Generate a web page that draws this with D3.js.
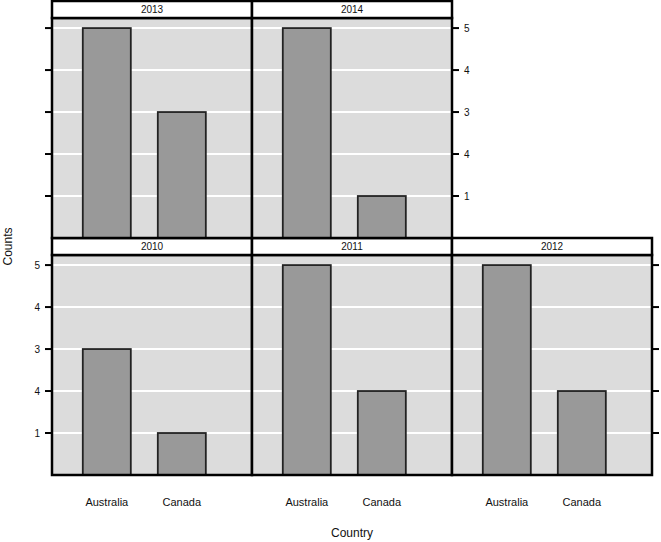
<!DOCTYPE html>
<html>
<head>
<meta charset="utf-8">
<script src="https://cdn.jsdelivr.net/npm/d3@7"></script>
<style>
  body { margin: 0; background: #fff; }
  text { font-family: "Liberation Sans", "DejaVu Sans", sans-serif; fill: #111; }
</style>
</head>
<body>
<script>
// panels in lattice order: filled from bottom-left, 3 columns
let years = ["2010", "2011", "2012", "2013", "2014"];
let countries = ["Australia", "Canada"];
let australia = [3, 5, 5, 5, 5];
let canada = [1, 2, 2, 3, 1];
let tickValues = [1, 2, 3, 4, 5];
let tickLabels = ["1", "4", "3", "4", "5"];

let width = 661;
let height = 542;

let svg = d3.select("body")
            .append("svg")
            .attr("width", width)
            .attr("height", height);

let left = 52;
let panelW = 200;
let stripH = 17;
let panelH = 220;
let rowTop = [238, 1];   // row 0 = bottom, row 1 = top
let nCols = 3;

let x = d3.scaleBand()
    .domain(countries)
    .range([0, panelW])
    .paddingInner(0.36)
    .paddingOuter(0.513)
    .align(0.4);

let y = d3.scaleLinear()
    .domain([0, 5.24])
    .range([panelH, 0]);

years.forEach((yr, i) => {
    let col = i % nCols;
    let row = Math.floor(i / nCols);
    let px = left + col * panelW;
    let py = rowTop[row] + stripH;
    let g = svg.append("g").attr("transform", `translate(${px},${py})`);

    g.append("rect")
        .attr("width", panelW)
        .attr("height", panelH)
        .style("fill", "#dcdcdc");

    g.selectAll(".grid")
        .data(tickValues)
        .join("line")
        .attr("x1", 0)
        .attr("x2", panelW)
        .attr("y1", d => y(d))
        .attr("y2", d => y(d))
        .style("stroke", "#fff")
        .style("stroke-width", 2);

    let vals = [australia[i], canada[i]];
    g.selectAll(".bar")
        .data(countries)
        .join("rect")
        .attr("x", d => x(d))
        .attr("width", x.bandwidth())
        .attr("y", (d, k) => y(vals[k]))
        .attr("height", (d, k) => y(0) - y(vals[k]))
        .style("fill", "#999999")
        .style("stroke", "#222")
        .style("stroke-width", 1.8);

    g.append("rect")
        .attr("width", panelW)
        .attr("height", panelH)
        .style("fill", "none")
        .style("stroke", "#000")
        .style("stroke-width", 2.5);

    // strip
    g.append("rect")
        .attr("y", -stripH)
        .attr("width", panelW)
        .attr("height", stripH)
        .style("fill", "#fff")
        .style("stroke", "#000")
        .style("stroke-width", 2.5);
    g.append("text")
        .attr("x", panelW / 2)
        .attr("y", -stripH / 2 + 3.5)
        .attr("text-anchor", "middle")
        .style("font-size", "10px")
        .text(yr);

    // y axis ticks: left on first column, right on last panel of each row
    let lastInRow = (col === nCols - 1) || (i === years.length - 1);
    if (col === 0 || lastInRow) {
        let onLeft = col === 0;
        let tx = onLeft ? 0 : panelW;
        let dir = onLeft ? -1 : 1;
        let labelled = (onLeft && row === 0) || (!onLeft && row === 1);
        g.selectAll(".tick" + i)
            .data(tickValues)
            .join("line")
            .attr("x1", tx + dir * 1)
            .attr("x2", tx + dir * 7)
            .attr("y1", d => y(d))
            .attr("y2", d => y(d))
            .style("stroke", "#000")
            .style("stroke-width", 2);
        if (labelled) {
            g.selectAll(".tl" + i)
                .data(tickValues)
                .join("text")
                .attr("x", tx + dir * 12)
                .attr("y", d => y(d) + 3.5)
                .attr("text-anchor", onLeft ? "end" : "start")
                .style("font-size", "10px")
                .text((d, k) => tickLabels[k]);
        }
    }

    // x labels under bottom row
    if (row === 0) {
        g.selectAll(".xl")
            .data(countries)
            .join("text")
            .attr("x", d => x(d) + x.bandwidth() / 2)
            .attr("y", panelH + 31)
            .attr("text-anchor", "middle")
            .style("font-size", "11px")
            .text(d => d);
    }
});

svg.append("text")
    .attr("x", left + nCols * panelW / 2)
    .attr("y", 537)
    .attr("text-anchor", "middle")
    .style("font-size", "12px")
    .text("Country");

svg.append("text")
    .attr("transform", `translate(12,${(rowTop[1] + stripH + rowTop[0] + stripH + panelH) / 2}) rotate(-90)`)
    .attr("text-anchor", "middle")
    .style("font-size", "12px")
    .text("Counts");
</script>
</body>
</html>
